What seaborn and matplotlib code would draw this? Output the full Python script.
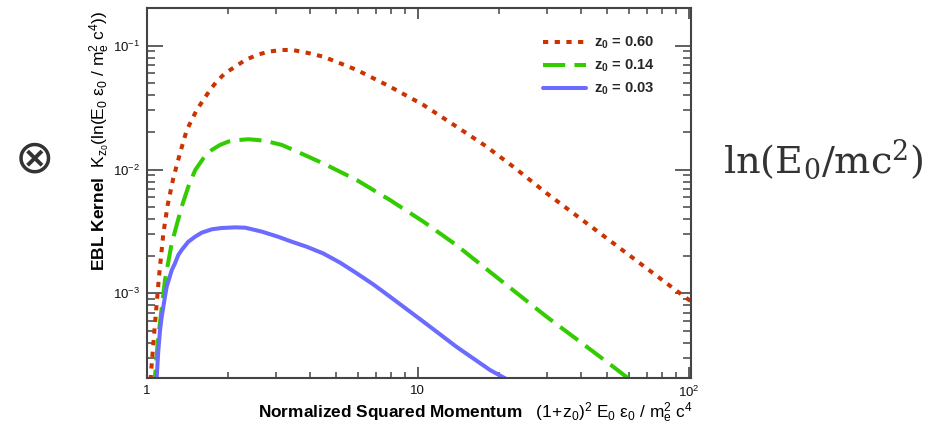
import numpy as np
import pandas as pd
import matplotlib
matplotlib.use("Agg")
import matplotlib.pyplot as plt
import seaborn as sns
from matplotlib.ticker import FixedLocator, FixedFormatter, LogLocator, NullFormatter

# ---------------- data ----------------
series_labels = ["0.60", "0.14", "0.03"]

red_x = [1.030, 1.037, 1.073, 1.11, 1.152, 1.195, 1.253, 1.327, 1.405, 1.466, 1.53,
         1.618, 1.713, 1.81, 1.945, 2.12, 2.31, 2.55, 2.81, 3.15, 3.45, 3.89, 4.48,
         5.17, 5.96, 7.90, 10.5, 13.9, 17.8, 22.5, 29.9, 39.7, 52.7, 70.0, 98.4, 103.0]
red_y = [1.6e-4, 2.26e-4, 5.72e-4, 1.36e-3, 3.05e-3, 5.17e-3, 8.49e-3, 1.352e-2,
         2.08e-2, 2.51e-2, 3.03e-2, 3.64e-2, 4.39e-2, 5.12e-2, 5.99e-2, 6.76e-2,
         7.66e-2, 8.41e-2, 8.95e-2, 9.23e-2, 9.23e-2, 8.78e-2, 8.15e-2, 7.21e-2,
         6.37e-2, 4.67e-2, 3.32e-2, 2.22e-2, 1.55e-2, 1.055e-2, 6.43e-3, 4.04e-3,
         2.54e-3, 1.59e-3, 9.1e-4, 8.5e-4]

green_x = [1.065, 1.073, 1.10, 1.168, 1.237, 1.346, 1.424, 1.51, 1.618, 1.74, 1.865,
           2.0, 2.18, 2.37, 2.58, 2.81, 3.15, 3.45, 4.48, 5.96, 7.90, 10.5, 13.9,
           18.0, 22.5, 29.9, 39.7, 52.7, 59.8, 62.0]
green_y = [1.6e-4, 2.12e-4, 4.2e-4, 1.28e-3, 2.54e-3, 5.0e-3, 7.26e-3, 9.9e-3,
           1.23e-2, 1.44e-2, 1.58e-2, 1.68e-2, 1.73e-2, 1.755e-2, 1.73e-2, 1.68e-2,
           1.58e-2, 1.45e-2, 1.12e-2, 8.22e-3, 5.67e-3, 3.79e-3, 2.45e-3, 1.56e-3,
           1.06e-3, 6.47e-4, 4.07e-4, 2.55e-4, 2.06e-4, 1.9e-4]

blue_x = [1.083, 1.089, 1.104, 1.12, 1.136, 1.168, 1.185, 1.237, 1.272, 1.308, 1.346,
          1.424, 1.51, 1.596, 1.74, 1.89, 2.12, 2.31, 2.66, 3.06, 3.45, 3.89, 4.48,
          5.17, 5.96, 6.86, 7.90, 10.5, 13.9, 18.5, 21.0, 22.0]
blue_y = [1.7e-4, 2.12e-4, 3.48e-4, 5.06e-4, 6.47e-4, 9.4e-4, 1.13e-3, 1.54e-3,
          1.75e-3, 2.04e-3, 2.24e-3, 2.61e-3, 2.87e-3, 3.09e-3, 3.29e-3, 3.37e-3,
          3.41e-3, 3.39e-3, 3.15e-3, 2.86e-3, 2.6e-3, 2.38e-3, 2.10e-3, 1.77e-3,
          1.45e-3, 1.18e-3, 9.4e-4, 5.9e-4, 3.7e-4, 2.4e-4, 2.06e-4, 1.9e-4]

x_tick_values = [1, 10, 100]
x_tick_labels = ["1", "10", r"$10^{2}$"]
y_tick_values = [1e-3, 1e-2, 1e-1]
y_tick_labels = [r"$10^{-3}$", r"$10^{-2}$", r"$10^{-1}$"]

df = pd.concat([
    pd.DataFrame({"x": red_x, "y": red_y, "z": series_labels[0]}),
    pd.DataFrame({"x": green_x, "y": green_y, "z": series_labels[1]}),
    pd.DataFrame({"x": blue_x, "y": blue_y, "z": series_labels[2]}),
], ignore_index=True)

# ---------------- style ----------------
sns.set_theme(style="white")
plt.rcParams["font.family"] = ["Liberation Sans", "DejaVu Sans"]
plt.rcParams["mathtext.fontset"] = "custom"
plt.rcParams["mathtext.rm"] = "Liberation Sans"
plt.rcParams["mathtext.it"] = "Liberation Sans"
plt.rcParams["mathtext.sf"] = "Liberation Sans"
plt.rcParams["mathtext.bf"] = "Liberation Sans:bold"
plt.rcParams["mathtext.cal"] = "DejaVu Serif"

palette = {"0.60": "#cc3300", "0.14": "#33cc00", "0.03": "#6b6bff"}
dashes = {"0.60": (1.3, 1.6), "0.14": (5.5, 2.3), "0.03": ""}

fig = plt.figure(figsize=(9.4, 4.23), dpi=100)
W, H = 940, 423
ax = fig.add_axes([146.7 / W, (H - 378.3) / H, (690.7 - 146.7) / W, (378.3 - 8) / H])

sns.lineplot(data=df, x="x", y="y", hue="z", style="z", hue_order=series_labels,
             style_order=series_labels, palette=palette, dashes=dashes,
             estimator=None, sort=True, linewidth=2.9, legend=False, ax=ax)

ax.set_xscale("log")
ax.set_yscale("log")
ax.set_xlim(1.0, 101.7)
ax.set_ylim(2.06e-4, 0.2015)

ax.xaxis.set_major_locator(FixedLocator(x_tick_values))
ax.xaxis.set_major_formatter(FixedFormatter(x_tick_labels))
ax.xaxis.set_minor_locator(LogLocator(base=10, subs=np.arange(2, 10)))
ax.xaxis.set_minor_formatter(NullFormatter())
ax.yaxis.set_major_locator(FixedLocator(y_tick_values))
ax.yaxis.set_major_formatter(FixedFormatter(y_tick_labels))
ax.yaxis.set_minor_locator(LogLocator(base=10, subs=np.arange(2, 10)))
ax.yaxis.set_minor_formatter(NullFormatter())

tc = "#444444"
for s in ax.spines.values():
    s.set_color(tc)
    s.set_linewidth(1.5)
ax.tick_params(axis="x", which="major", direction="in", top=True, bottom=True,
               length=8, width=1.2, color=tc, labelsize=9.5, pad=4.5, labelcolor="#111")
ax.tick_params(axis="x", which="minor", direction="in", top=True, bottom=True,
               length=4, width=1.1, color=tc)
ax.tick_params(axis="y", which="major", direction="in", left=True, right=True,
               length=11.5, width=1.2, color=tc, labelsize=9.5, pad=5, labelcolor="#111")
ax.tick_params(axis="y", which="minor", direction="in", left=True, right=True,
               length=5.8, width=1.1, color=tc)
ax.set_xlabel("")
ax.set_ylabel("")

lines = ax.get_lines()[:3]
ax.legend(lines, [r"$\mathbf{z_{0}}$ = " + s for s in series_labels],
          loc="upper left", bbox_to_anchor=(543 / W, 1 - 35 / H),
          bbox_transform=fig.transFigure, frameon=False, borderpad=0,
          borderaxespad=0, handlelength=2.9, handletextpad=0.55,
          labelspacing=0.45, prop={"weight": "bold", "size": 10.6})

fig.text(475 / W, 1 - 417.5 / H,
         r"$\mathbf{Normalized\ Squared\ Momentum}\ \ \ \mathrm{(1\!+\!z_{0})^{2}\ E_{0}\ \epsilon_{0}\ /\ m_{e}^{2}\ c^{4}}$",
         ha="center", va="baseline", fontsize=12.4, color="black")
fig.text(100 / W, 1 - 141 / H,
         r"$\mathbf{EBL\ Kernel}\ \ \mathrm{K_{z_{0}}(ln(E_{0}\ \epsilon_{0}\ /\ m_{e}^{2}\ c^{4}))}$",
         ha="center", va="center", rotation=90, fontsize=12.5, color="black")

fig.text(35 / W, 1 - 160 / H, "\u2297", ha="center", va="center", fontsize=34,
         color="#333333", family=["DejaVu Sans"], fontweight="normal")
fig.text(723 / W, 1 - 173 / H, r"$\mathcal{ln(E_{0}/mc^{2})}$", ha="left",
         va="baseline", fontsize=27.5, color="#333333")

fig.savefig("out.png", dpi=100)
